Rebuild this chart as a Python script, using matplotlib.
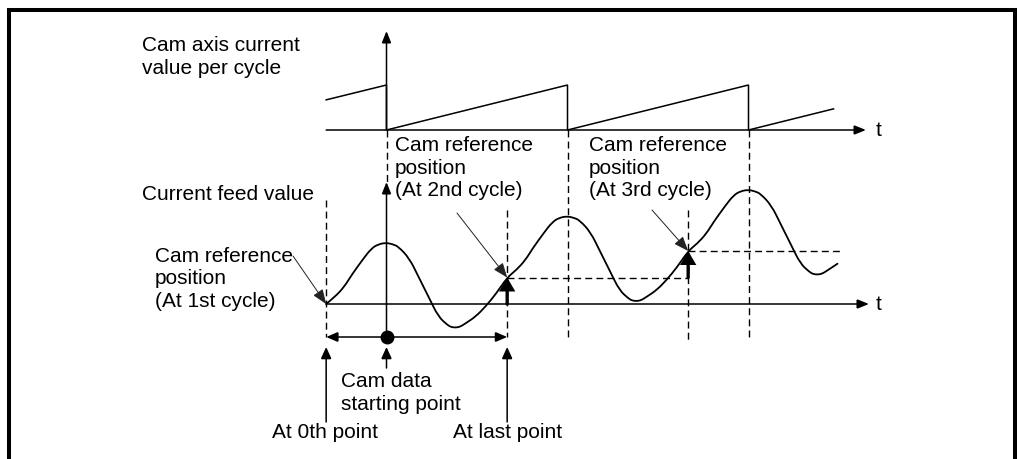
import matplotlib
matplotlib.use("Agg")
import matplotlib.pyplot as plt
from matplotlib.path import Path
from matplotlib.patches import PathPatch
import matplotlib.transforms as mtransforms

# ---------------- data ----------------
# one cycle of cam data: phase (% of cycle, measured from the 0th point) and stroke
cam_phase = [0, 5, 10, 14, 20, 25, 29, 33.3, 37, 40, 46, 51, 57, 62, 67, 69,
             71.5, 74, 77, 82.5, 88, 94, 100]
cam_stroke = [0, 28, 65, 109, 166, 210, 226, 231, 225, 216, 172, 103, 21, -48,
              -79, -87, -89, -86, -73, -48, -10, 40, 100]
cycle_stroke = 100          # feed added per cycle
n_cycles = 3
last_cycle_end_phase = 82.5  # drawing stops here in the 3rd cycle
zero_point_time = -1 / 3     # 0th point, relative to cam data starting point (cycles)

# cam axis current value per cycle (sawtooth)
saw_time = [-1 / 3, 0, 0, 1, 1, 2, 2, 2.47]
saw_value = [67, 100, 0, 100, 0, 100, 0, 47]

ref_labels = ["Cam reference\nposition\n(At 1st cycle)",
              "Cam reference\nposition\n(At 2nd cycle)",
              "Cam reference\nposition\n(At 3rd cycle)"]
top_label = "Cam axis current\nvalue per cycle"
bot_label = "Current feed value"
start_label = "Cam data\nstarting point"
zero_label = "At 0th point"
last_label = "At last point"

# ---------------- layout ----------------
W, H = 1017, 459
X0 = 386.5          # pixel of cam data starting point (t = 0)
PXC = 181.0         # pixels per cycle
TOP_Y0, TOP_K = 130.0, 0.45
BOT_Y0, BOT_K = 304.0, 0.265
FONT = "Liberation Sans"
FS = 15

fig = plt.figure(figsize=(W / 100, H / 100), dpi=100)
ax_px = fig.add_axes([0, 0, 1, 1])
ax_px.set_xlim(0, W)
ax_px.set_ylim(H, 0)
ax_top = fig.add_axes([0, 0, 1, 1])
ax_bot = fig.add_axes([0, 0, 1, 1])
for a in (ax_top, ax_bot):
    a.set_xlim(-X0 / PXC, (W - X0) / PXC)
ax_top.set_ylim((TOP_Y0 - H) / TOP_K, TOP_Y0 / TOP_K)
ax_bot.set_ylim((BOT_Y0 - H) / BOT_K, BOT_Y0 / BOT_K)
for a in (ax_px, ax_top, ax_bot):
    a.axis("off")
    a.patch.set_visible(False)

bx = mtransforms.blended_transform_factory(ax_bot.transData, ax_px.transData)
txt = dict(fontfamily=FONT, fontsize=FS, color="black", linespacing=1.22)


def arrow(xy, xytext, coords, tcoords=None, hl=0.65, hw=0.25, lw=1.1, color="black", style="-|>"):
    ax_px.annotate("", xy=xy, xycoords=coords, xytext=xytext,
                   textcoords=tcoords if tcoords is not None else coords,
                   arrowprops=dict(arrowstyle=f"{style},head_length={hl},head_width={hw}",
                                   color=color, lw=lw, shrinkA=0, shrinkB=0,
                                   mutation_scale=10, joinstyle="miter"))


# frame
ax_px.plot([9, 9, 1015, 1015], [475, 10.3, 10.3, 475], color="black", lw=2.9,
           solid_joinstyle="miter", clip_on=False)

# ---------- upper chart ----------
ax_top.plot(saw_time, saw_value, color="black", lw=1.1, solid_joinstyle="miter")
arrow(((866 - X0) / PXC, 0), (saw_time[0], 0), ax_top.transData, hl=0.7, hw=0.28)
arrow((0, 31), (0, TOP_Y0), bx, hl=0.7, hw=0.28)
ax_px.text(876, TOP_Y0, "t", ha="left", va="center", **txt)

# ---------- lower chart ----------
t_ref = [zero_point_time + k for k in range(n_cycles)]
pts = []
for k in range(n_cycles):
    for ph, st in zip(cam_phase, cam_stroke):
        if k == n_cycles - 1 and ph > last_cycle_end_phase:
            break
        p = (t_ref[k] + ph / 100.0, k * cycle_stroke + st)
        if pts and abs(pts[-1][0] - p[0]) < 1e-9:
            continue
        pts.append(p)
verts = [pts[0]]
codes = [Path.MOVETO]
for i in range(1, len(pts) - 1):
    mid = ((pts[i][0] + pts[i + 1][0]) / 2, (pts[i][1] + pts[i + 1][1]) / 2)
    verts += [pts[i], mid]
    codes += [Path.CURVE3, Path.CURVE3]
verts.append(pts[-1])
codes.append(Path.LINETO)
ax_bot.add_patch(PathPatch(Path(verts, codes), fill=False, edgecolor="black",
                           lw=1.3, capstyle="round", joinstyle="round"))

# axes
arrow(((869 - X0) / PXC, 0), (t_ref[0], 0), ax_bot.transData, hl=0.7, hw=0.28)
arrow((0, 182), (0, 337), bx, hl=0.7, hw=0.28)
ax_px.text(876, BOT_Y0, "t", ha="left", va="center", **txt)

# dashed verticals
dash = dict(color="black", lw=1.0, linestyle=(0, (5, 3)))
ax_bot.plot([t_ref[0]] * 2, [200, 337], transform=bx, **dash)
for k in (1, 2):
    ax_bot.plot([t_ref[k]] * 2, [210, 337 if k == 1 else 340], transform=bx, **dash)
ax_bot.plot([0, 0], [TOP_Y0, 182], transform=bx, **dash)
for k in (1, 2):
    ax_bot.plot([k, k], [TOP_Y0, 340], transform=bx, **dash)

# dashed horizontals (feed level at each reference position)
ax_bot.plot([t_ref[1], t_ref[2]], [cycle_stroke] * 2, **dash)
ax_bot.plot([t_ref[2], (842 - X0) / PXC], [2 * cycle_stroke] * 2, **dash)

# thick arrows: feed added per cycle
for k in (1, 2):
    arrow((t_ref[k], k * cycle_stroke), (t_ref[k], (k - 1) * cycle_stroke),
          ax_bot.transData, hl=0.65, hw=0.38, lw=2.4)

# reference position labels with pointer arrows
label_pos = [(155, 279), (395, 168), (589, 168)]
tails = [(293, 256), (457, 213), (652, 210)]
for k in range(n_cycles):
    ax_px.text(label_pos[k][0], label_pos[k][1], ref_labels[k], ha="left",
               va="center", **txt)
    arrow((t_ref[k], k * cycle_stroke), tails[k], ax_bot.transData,
          tcoords=ax_px.transData, hl=0.9, hw=0.35, lw=0.7, color="#222222")

# dimension line and starting point dot
arrow((t_ref[0], 337), (t_ref[0] + 1, 337), bx, style="<|-|>", hl=0.7, hw=0.3)
ax_bot.plot([0], [337], transform=bx, marker="o", ms=9, color="black")

# lower pointers
arrow((t_ref[0], 347), (t_ref[0], 422), bx, hl=0.7, hw=0.32)
arrow((t_ref[0] + 1, 347), (t_ref[0] + 1, 422), bx, hl=0.7, hw=0.32)
arrow((0, 347), (0, 368), bx, hl=0.7, hw=0.32)

# other texts
ax_px.text(142, 57, top_label, ha="left", va="center", **txt)
ax_px.text(142, 195, bot_label, ha="left", va="center", **txt)
ax_px.text(341, 393, start_label, ha="left", va="center", **txt)
ax_px.text(272, 433, zero_label, ha="left", va="center", **txt)
ax_px.text(453, 433, last_label, ha="left", va="center", **txt)

fig.savefig("out.png", dpi=100)
